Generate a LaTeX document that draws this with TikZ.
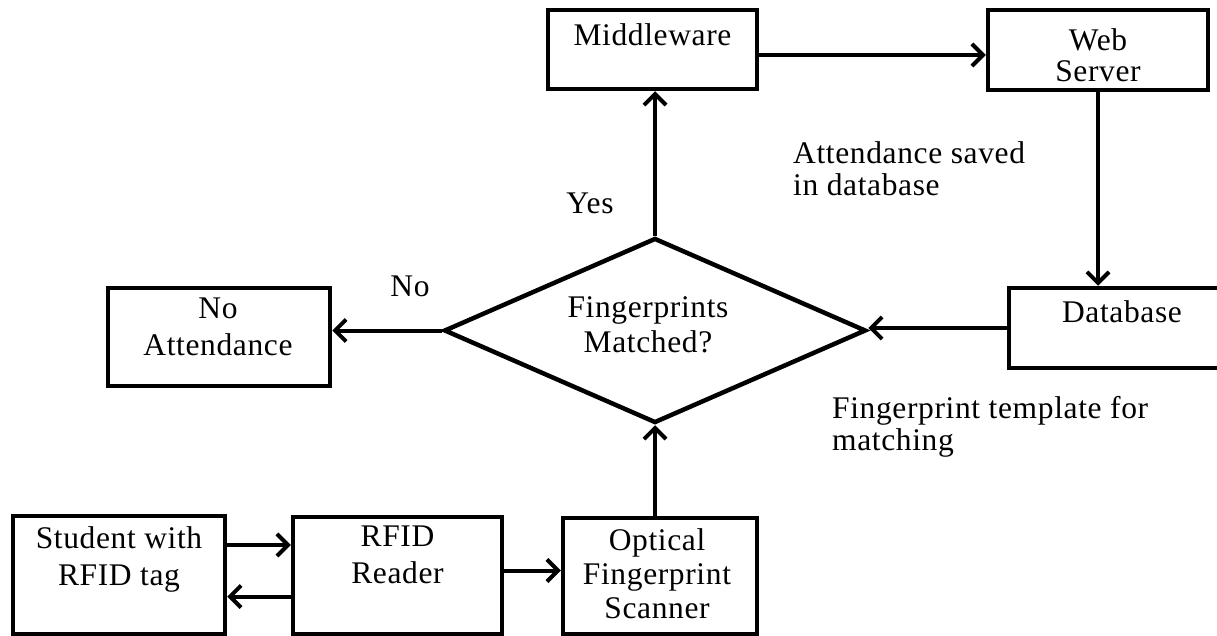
\documentclass[tikz,border=0pt]{standalone}
\usepackage{fontspec}
\setmainfont[LetterSpace=2]{Liberation Serif}
\usetikzlibrary{shapes.geometric,arrows.meta}
\begin{document}
\begin{tikzpicture}[x=1pt,y=-1pt,
  box/.style={draw, line width=4.5pt, inner sep=0pt},
  lbl/.style={inner sep=0pt, align=center, anchor=north, font=\fontsize{31.5}{#1}\selectfont},
  lbl/.default=34,
  arr/.style={line width=4pt, -{Straight Barb[length=11pt,width=22pt]}}]
\clip (0,0) rectangle (1217,636);
\fill[white] (0,0) rectangle (1217,636);
% boxes
\node[box, minimum width=209pt, minimum height=79pt] (mw) at (652.5,49.5) {};
\node[lbl] (mwt) at (652.5,23) {Middleware};
\node[box, minimum width=220pt, minimum height=80pt] (ws) at (1098,50) {};
\node[lbl=31] (wst) at (1098,28) {Web\\Server};
\node[box, minimum width=226pt, minimum height=80pt] (db) at (1122,328) {};
\node[lbl] (dbt) at (1122,300) {Database};
\node[box, minimum width=222pt, minimum height=98pt] (na) at (219,337) {};
\node[lbl=37] (nat) at (218,298) {No\\Attendance};
\node[draw, diamond, line width=4.5pt, minimum width=422pt, minimum height=185pt, inner sep=0pt] (dia) at (655,330.5) {};
\node[lbl=35] (diat) at (648,296) {Fingerprints\\Matched?};
\node[box, minimum width=212pt, minimum height=118pt] (st) at (119,575) {};
\node[lbl=37] (stt) at (119,526) {Student with\\RFID tag};
\node[box, minimum width=209pt, minimum height=117pt] (rf) at (397.5,575.5) {};
\node[lbl=37] (rft) at (397.5,526) {RFID\\Reader};
\node[box, minimum width=194pt, minimum height=116pt] (op) at (660,576) {};
\node[lbl=34] (opt) at (657,528) {Optical\\Fingerprint\\Scanner};
% free labels
\node[lbl] (yes) at (590,193) {Yes};
\node[lbl] (no) at (410,276) {No};
\node[lbl=32, align=left, anchor=north west] (att) at (793,141) {Attendance saved\\in database};
\node[lbl=32, align=left, anchor=north west] (fpt) at (832,396) {Fingerprint template for\\matching};
% connectors
\draw[arr] ([yshift=-5.5pt]mw.east) -- ([yshift=-5.5pt]mw.east -| ws.west);
\draw[arr] (ws.south) -- (ws.south |- db.north);
\draw[arr] (db.west) -- (db.west -| dia.east);
\draw[arr] (dia.west) -- (dia.west -| na.east);
\draw[arr] (dia.north) -- (dia.north |- mw.south);
\draw[arr] (op.north -| dia.south) -- (dia.south);
\draw[arr] ([yshift=30pt]st.east) -- ([yshift=30pt]st.east -| rf.west);
\draw[arr] ([yshift=-21pt]rf.west) -- ([yshift=-21pt]rf.west -| st.east);
\draw[arr] ([yshift=5pt]rf.east) -- ([yshift=5pt]rf.east -| op.west);
\end{tikzpicture}
\end{document}
